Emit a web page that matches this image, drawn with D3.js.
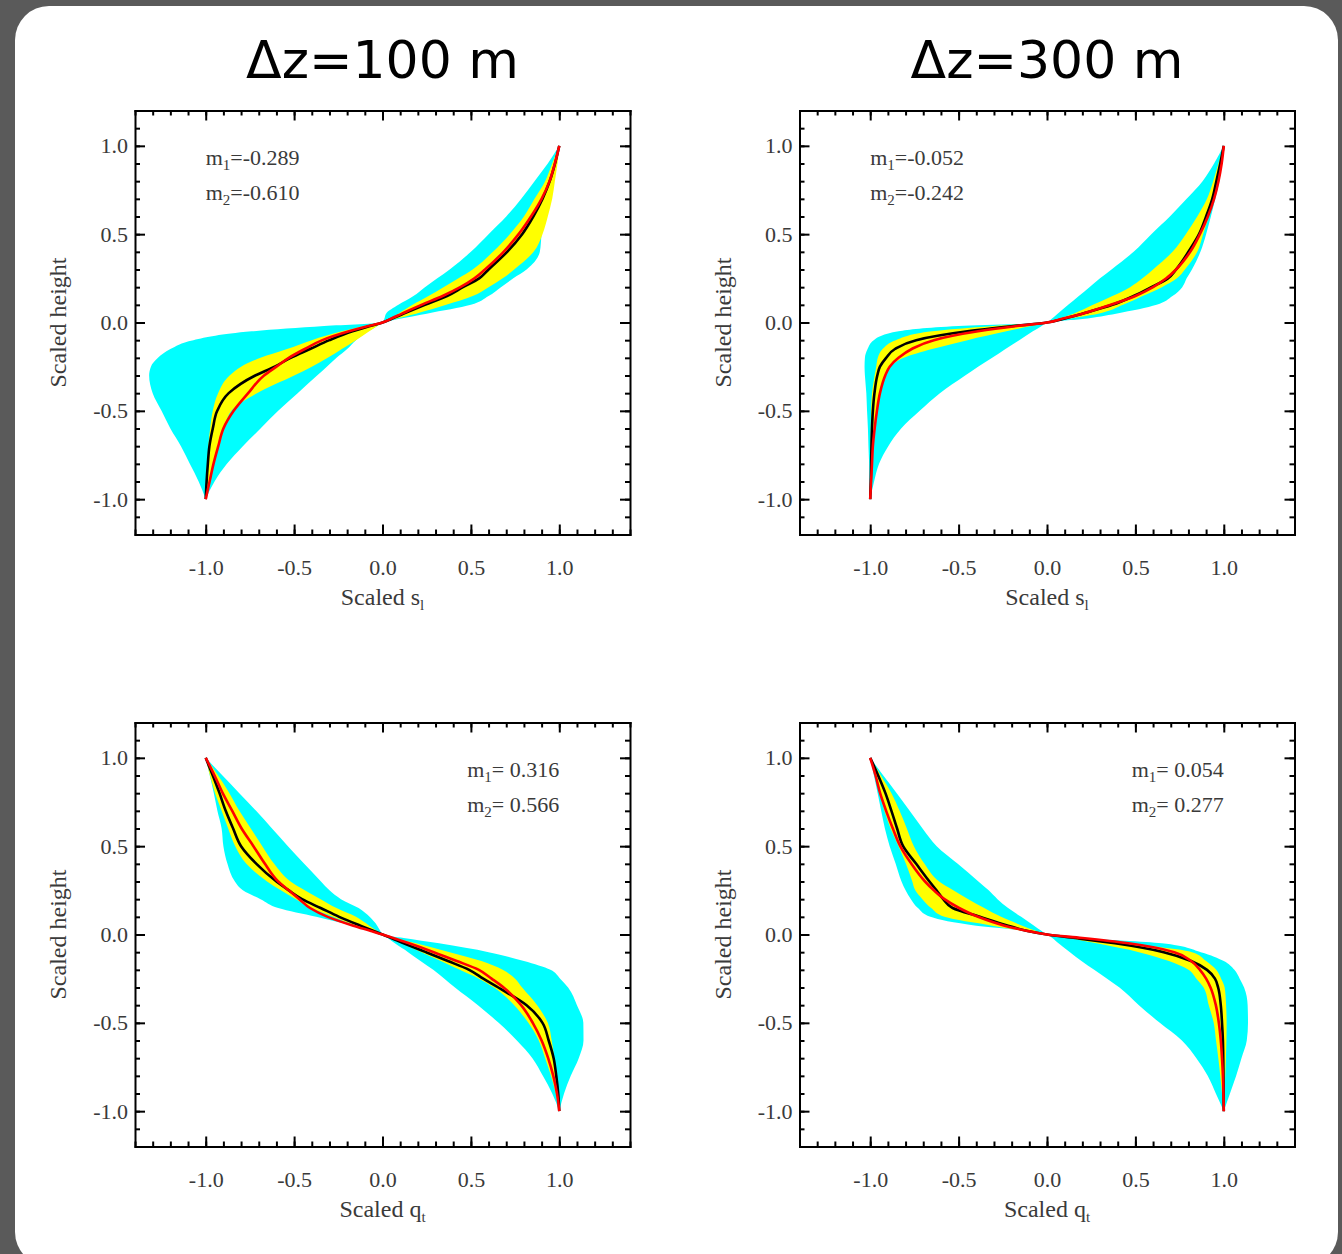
<!DOCTYPE html>
<html>
<head>
<meta charset="utf-8">
<script src="https://cdn.jsdelivr.net/npm/d3@7"></script>
<style>
  body { margin: 0; background: #5a5a5a; }
  svg { display: block; }
</style>
</head>
<body>
<script>
// scaled height levels shared by every profile
var heights = [-1, -0.9, -0.8, -0.7, -0.6, -0.5, -0.4, -0.3, -0.25, -0.2, -0.15, -0.1, -0.05, -0.02, 0,
               0.02, 0.05, 0.1, 0.15, 0.2, 0.25, 0.3, 0.4, 0.5, 0.6, 0.7, 0.8, 0.9, 1];

// s_l, dz = 100 m
var sl100CyanL   = [-1, -1.04, -1.09, -1.14, -1.20, -1.25, -1.30, -1.32, -1.31, -1.27, -1.20, -1.07, -0.74, -0.33, 0, 0.01, 0.02, 0.09, 0.175, 0.24, 0.31, 0.38, 0.50, 0.60, 0.70, 0.785, 0.86, 0.935, 1];
var sl100CyanR   = [-1, -0.95, -0.88, -0.79, -0.69, -0.59, -0.48, -0.37, -0.315, -0.26, -0.20, -0.15, -0.08, -0.03, 0, 0.09, 0.25, 0.50, 0.60, 0.67, 0.74, 0.815, 0.89, 0.90, 0.915, 0.928, 0.955, 0.978, 1];
var sl100YellowL = [-1, -0.995, -0.99, -0.985, -0.975, -0.96, -0.93, -0.865, -0.80, -0.69, -0.54, -0.40, -0.23, -0.10, 0, 0.04, 0.09, 0.17, 0.26, 0.345, 0.43, 0.51, 0.625, 0.72, 0.80, 0.86, 0.92, 0.96, 1];
var sl100YellowR = [-1, -0.98, -0.955, -0.925, -0.895, -0.855, -0.71, -0.50, -0.40, -0.31, -0.23, -0.15, -0.075, -0.03, 0, 0.07, 0.19, 0.36, 0.51, 0.60, 0.68, 0.745, 0.855, 0.905, 0.935, 0.96, 0.975, 0.99, 1];
var sl100Mean    = [-1, -0.995, -0.988, -0.979, -0.96, -0.935, -0.87, -0.72, -0.61, -0.52, -0.41, -0.30, -0.17, -0.07, 0, 0.05, 0.12, 0.24, 0.365, 0.455, 0.547, 0.60, 0.705, 0.79, 0.853, 0.905, 0.946, 0.976, 1];
var sl100Fit     = [-1, -0.978, -0.956, -0.929, -0.90, -0.842, -0.76, -0.67, -0.60, -0.53, -0.44, -0.34, -0.19, -0.08, 0, 0.045, 0.11, 0.22, 0.34, 0.44, 0.52, 0.58, 0.685, 0.77, 0.84, 0.90, 0.945, 0.975, 1];

// s_l, dz = 300 m
var sl300CyanL   = [-1, -1.003, -1.006, -1.01, -1.013, -1.018, -1.022, -1.03, -1.032, -1.03, -1.015, -0.98, -0.84, -0.5, 0, 0.025, 0.06, 0.12, 0.18, 0.24, 0.30, 0.365, 0.49, 0.59, 0.695, 0.79, 0.88, 0.945, 1];
var sl300CyanR   = [-1, -0.978, -0.95, -0.898, -0.825, -0.72, -0.606, -0.463, -0.39, -0.31, -0.235, -0.157, -0.08, -0.03, 0, 0.2, 0.39, 0.62, 0.71, 0.765, 0.79, 0.82, 0.868, 0.90, 0.927, 0.952, 0.975, 0.99, 1];
var sl300YellowL = [-1, -1.0, -0.999, -0.998, -0.997, -0.995, -0.99, -0.975, -0.966, -0.957, -0.93, -0.855, -0.65, -0.3, 0, 0.06, 0.15, 0.26, 0.37, 0.47, 0.54, 0.60, 0.71, 0.785, 0.85, 0.905, 0.94, 0.97, 1];
var sl300YellowR = [-1, -0.995, -0.99, -0.985, -0.975, -0.962, -0.94, -0.91, -0.885, -0.81, -0.65, -0.45, -0.23, -0.09, 0, 0.11, 0.29, 0.43, 0.54, 0.65, 0.735, 0.78, 0.85, 0.883, 0.915, 0.94, 0.963, 0.985, 1];
var sl300Mean    = [-1, -0.997, -0.995, -0.993, -0.99, -0.985, -0.976, -0.96, -0.945, -0.91, -0.86, -0.74, -0.45, -0.19, 0, 0.09, 0.2, 0.37, 0.49, 0.59, 0.684, 0.73, 0.80, 0.86, 0.90, 0.935, 0.958, 0.98, 1];
var sl300Fit     = [-1, -0.995, -0.99, -0.985, -0.975, -0.962, -0.945, -0.915, -0.89, -0.84, -0.765, -0.64, -0.39, -0.17, 0, 0.08, 0.2, 0.36, 0.5, 0.6, 0.675, 0.73, 0.81, 0.865, 0.91, 0.945, 0.97, 0.988, 1];

// q_t, dz = 100 m
var qt100CyanL   = [1, 0.96, 0.907, 0.848, 0.76, 0.657, 0.54, 0.41, 0.35, 0.287, 0.215, 0.145, 0.07, 0.03, 0, -0.065, -0.17, -0.375, -0.59, -0.69, -0.79, -0.835, -0.877, -0.90, -0.91, -0.934, -0.954, -0.977, -1];
var qt100CyanR   = [1, 1.027, 1.065, 1.11, 1.137, 1.136, 1.10, 1.05, 1.005, 0.95, 0.80, 0.60, 0.32, 0.12, 0, -0.012, -0.03, -0.073, -0.135, -0.235, -0.30, -0.348, -0.443, -0.535, -0.625, -0.715, -0.81, -0.905, -1];
var qt100YellowL = [1, 0.98, 0.953, 0.92, 0.884, 0.825, 0.745, 0.63, 0.545, 0.437, 0.33, 0.22, 0.11, 0.045, 0, -0.06, -0.15, -0.28, -0.40, -0.49, -0.575, -0.653, -0.77, -0.833, -0.873, -0.91, -0.947, -0.976, -1];
var qt100YellowR = [1, 0.993, 0.985, 0.972, 0.957, 0.935, 0.875, 0.79, 0.75, 0.68, 0.56, 0.38, 0.19, 0.07, 0, -0.03, -0.075, -0.15, -0.26, -0.35, -0.44, -0.52, -0.613, -0.68, -0.745, -0.81, -0.866, -0.93, -1];
var qt100Mean    = [1, 0.994, 0.983, 0.968, 0.94, 0.905, 0.815, 0.655, 0.57, 0.49, 0.37, 0.246, 0.12, 0.05, 0, -0.05, -0.125, -0.245, -0.35, -0.455, -0.53, -0.60, -0.713, -0.80, -0.845, -0.887, -0.922, -0.96, -1];
var qt100Fit     = [1, 0.987, 0.966, 0.937, 0.90, 0.85, 0.784, 0.685, 0.617, 0.545, 0.42, 0.29, 0.15, 0.06, 0, -0.065, -0.165, -0.31, -0.41, -0.47, -0.53, -0.59, -0.665, -0.73, -0.797, -0.85, -0.904, -0.95, -1];

// q_t, dz = 300 m
var qt300CyanL   = [1, 0.955, 0.909, 0.845, 0.763, 0.638, 0.52, 0.41, 0.34, 0.267, 0.195, 0.13, 0.065, 0.03, 0, -0.11, -0.40, -0.66, -0.73, -0.77, -0.80, -0.823, -0.856, -0.89, -0.917, -0.938, -0.958, -0.979, -1];
var qt300CyanR   = [1, 1.035, 1.07, 1.10, 1.13, 1.137, 1.135, 1.115, 1.09, 1.06, 1.0, 0.87, 0.65, 0.2, 0, -0.03, -0.073, -0.146, -0.22, -0.28, -0.33, -0.388, -0.505, -0.624, -0.704, -0.777, -0.85, -0.926, -1];
var qt300YellowL = [1, 0.99, 0.98, 0.969, 0.956, 0.943, 0.915, 0.886, 0.845, 0.80, 0.69, 0.52, 0.28, 0.12, 0, -0.13, -0.31, -0.58, -0.655, -0.705, -0.745, -0.762, -0.798, -0.84, -0.885, -0.92, -0.947, -0.974, -1];
var qt300YellowR = [1, 1.004, 1.008, 1.012, 1.015, 1.016, 1.013, 1.005, 0.985, 0.957, 0.90, 0.82, 0.45, 0.22, 0, -0.06, -0.14, -0.26, -0.355, -0.445, -0.53, -0.61, -0.693, -0.753, -0.793, -0.834, -0.88, -0.94, -1];
var qt300Mean    = [1, 0.999, 0.998, 0.997, 0.995, 0.99, 0.983, 0.968, 0.95, 0.905, 0.815, 0.66, 0.385, 0.16, 0, -0.11, -0.22, -0.38, -0.534, -0.587, -0.625, -0.665, -0.74, -0.814, -0.848, -0.88, -0.914, -0.955, -1];
var qt300Fit     = [1, 0.998, 0.995, 0.99, 0.983, 0.972, 0.955, 0.925, 0.9, 0.865, 0.815, 0.72, 0.46, 0.2, 0, -0.11, -0.24, -0.39, -0.497, -0.58, -0.64, -0.69, -0.767, -0.83, -0.872, -0.91, -0.944, -0.97, -1];

var columnTitles = ['\u0394z=100 m', '\u0394z=300 m'];
var m1Labels = ['-0.289', '-0.052', ' 0.316', ' 0.054'];
var m2Labels = ['-0.610', '-0.242', ' 0.566', ' 0.277'];
var xVarNames = [['s', 'l'], ['s', 'l'], ['q', 't'], ['q', 't']];
var xTickValues = [-1, -0.5, 0, 0.5, 1];
var yTickValues = [-1, -0.5, 0, 0.5, 1];

var panelData = [
  [sl100CyanL, sl100CyanR, sl100YellowL, sl100YellowR, sl100Mean, sl100Fit],
  [sl300CyanL, sl300CyanR, sl300YellowL, sl300YellowR, sl300Mean, sl300Fit],
  [qt100CyanL, qt100CyanR, qt100YellowL, qt100YellowR, qt100Mean, qt100Fit],
  [qt300CyanL, qt300CyanR, qt300YellowL, qt300YellowR, qt300Mean, qt300Fit]
];

// layout
var W = 495, H = 424;
var frames = [
  { left: 135,   top: 110.5, noteX: -1.0, anchor: 'start' },
  { left: 799.5, top: 110.5, noteX: -1.0, anchor: 'start' },
  { left: 135,   top: 722.5, noteX: 1.0,  anchor: 'end' },
  { left: 799.5, top: 722.5, noteX: 1.0,  anchor: 'end' }
];
var serif = 'Liberation Serif, Times New Roman, serif';
var textGray = '#3a3a3a';

var svg = d3.select('body')
            .append('svg')
            .attr('width', 1342)
            .attr('height', 1254);

svg.append('rect')
   .attr('x', 15).attr('y', 6)
   .attr('width', 1323).attr('height', 1260)
   .attr('rx', 34)
   .attr('fill', '#ffffff');

svg.selectAll('text.coltitle')
   .data(columnTitles)
   .enter()
   .append('text')
   .attr('class', 'coltitle')
   .attr('x', function (d, i) { return frames[i].left + W / 2; })
   .attr('y', 78)
   .attr('text-anchor', 'middle')
   .attr('font-family', 'DejaVu Sans, sans-serif')
   .attr('font-size', 52)
   .attr('fill', '#000')
   .text(function (d) { return d; });

var xScale = d3.scaleLinear().domain([-1.4, 1.4]).range([0, W]);
var yScale = d3.scaleLinear().domain([-1.2, 1.2]).range([H, 0]);
var minorX = d3.range(-14, 15).map(function (d) { return d / 10; });
var minorY = d3.range(-12, 13).map(function (d) { return d / 10; });

function styleAxis(sel) {
  sel.selectAll('line').attr('stroke-width', 2);
  sel.selectAll('path').attr('stroke-width', 2).attr('stroke-linecap', 'square');
  sel.attr('font-family', serif).attr('font-size', 22);
  sel.selectAll('text').attr('fill', textGray);
}

frames.forEach(function (f, i) {
  var d = panelData[i];
  var rows = heights.map(function (h, k) {
    return { h: h, cl: d[0][k], cr: d[1][k], yl: d[2][k], yr: d[3][k], mean: d[4][k], fit: d[5][k] };
  });

  var g = svg.append('g').attr('transform', 'translate(' + f.left + ',' + f.top + ')');

  var band = function (lo, hi) {
    return d3.area()
             .y(function (r) { return yScale(r.h); })
             .x0(function (r) { return xScale(r[lo]); })
             .x1(function (r) { return xScale(r[hi]); })
             .curve(d3.curveMonotoneY);
  };
  var line = function (key) {
    return d3.line()
             .y(function (r) { return yScale(r.h); })
             .x(function (r) { return xScale(r[key]); })
             .curve(d3.curveMonotoneY);
  };

  g.append('path').datum(rows).attr('d', band('cl', 'cr')).attr('fill', '#00ffff');
  g.append('path').datum(rows).attr('d', band('yl', 'yr')).attr('fill', '#ffff00');
  g.append('path').datum(rows).attr('d', line('mean'))
   .attr('fill', 'none').attr('stroke', '#000').attr('stroke-width', 2.6);
  g.append('path').datum(rows).attr('d', line('fit'))
   .attr('fill', 'none').attr('stroke', '#ff0000').attr('stroke-width', 2.6);

  // minor ticks on all sides
  var mb = g.append('g').attr('transform', 'translate(0,' + H + ')')
            .call(d3.axisBottom(xScale).tickValues(minorX).tickSize(-5).tickFormat(''));
  var mt = g.append('g').call(d3.axisTop(xScale).tickValues(minorX).tickSize(-5).tickFormat(''));
  var ml = g.append('g').call(d3.axisLeft(yScale).tickValues(minorY).tickSize(-5).tickFormat(''));
  var mr = g.append('g').attr('transform', 'translate(' + W + ',0)')
            .call(d3.axisRight(yScale).tickValues(minorY).tickSize(-5).tickFormat(''));
  [mb, mt, ml, mr].forEach(function (a) { a.select('.domain').remove(); styleAxis(a); });

  // major ticks + frame
  var fmt = function (v) { return v.toFixed(1); };
  var ab = g.append('g').attr('transform', 'translate(0,' + H + ')')
            .call(d3.axisBottom(xScale).tickValues(xTickValues).tickSize(-10).tickSizeOuter(0)
                  .tickPadding(25).tickFormat(fmt));
  var at = g.append('g')
            .call(d3.axisTop(xScale).tickValues(xTickValues).tickSize(-10).tickSizeOuter(0).tickFormat(''));
  var al = g.append('g')
            .call(d3.axisLeft(yScale).tickValues(yTickValues).tickSize(-10).tickSizeOuter(0)
                  .tickPadding(7).tickFormat(fmt));
  var ar = g.append('g').attr('transform', 'translate(' + W + ',0)')
            .call(d3.axisRight(yScale).tickValues(yTickValues).tickSize(-10).tickSizeOuter(0).tickFormat(''));
  [ab, at, al, ar].forEach(styleAxis);

  // fit coefficients
  [m1Labels[i], m2Labels[i]].forEach(function (v, j) {
    var t = g.append('text')
             .attr('x', xScale(f.noteX))
             .attr('y', 54.5 + j * 35)
             .attr('text-anchor', f.anchor)
             .attr('font-family', serif)
             .attr('font-size', 22)
             .attr('fill', textGray)
             .attr('xml:space', 'preserve');
    t.append('tspan').text('m');
    t.append('tspan').attr('dy', 5).attr('font-size', 15).text(j + 1);
    t.append('tspan').attr('dy', -5).text('=' + v);
  });

  // axis titles
  g.append('text')
   .attr('transform', 'translate(' + (66 - f.left + (f.left > 400 ? 664.5 : 0)) + ',' + (H / 2) + ') rotate(-90)')
   .attr('text-anchor', 'middle')
   .attr('font-family', serif)
   .attr('font-size', 24)
   .attr('fill', textGray)
   .text('Scaled height');

  var xt = g.append('text')
            .attr('x', W / 2)
            .attr('y', H + 70)
            .attr('text-anchor', 'middle')
            .attr('font-family', serif)
            .attr('font-size', 24)
            .attr('fill', textGray);
  xt.append('tspan').text('Scaled ' + xVarNames[i][0]);
  xt.append('tspan').attr('dy', 5).attr('font-size', 15).text(xVarNames[i][1]);
});
</script>
</body>
</html>
